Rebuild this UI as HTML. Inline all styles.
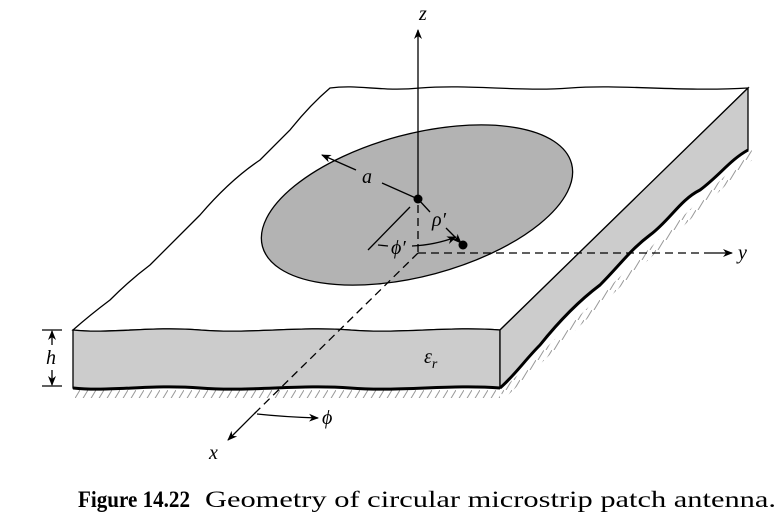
<!DOCTYPE html>
<html><head><meta charset="utf-8"><style>
html,body{margin:0;padding:0;background:#fff;}
svg{display:block;}
text{font-family:"Liberation Serif",serif;}
</style></head><body>
<svg width="783" height="526" viewBox="0 0 783 526">
<defs>
<marker id="ar" markerWidth="10" markerHeight="8" refX="9" refY="4" orient="auto" markerUnits="userSpaceOnUse"><path d="M0,0 L10,4 L0,8 L3,4 Z" fill="#000"/></marker>
<pattern id="hatch" width="8" height="10" patternUnits="userSpaceOnUse"><line x1="8" y1="0" x2="2" y2="10" stroke="#999" stroke-width="1"/></pattern>
</defs>
<rect x="75" y="390" width="425" height="8" fill="url(#hatch)"/>
<path d="M500,392 L752,150 L752,160 L505,398 Z" fill="url(#hatch)"/>
<path d="M330,88 C360,84 380,92 420,88 C470,84 520,92 570,88 C620,84 680,92 748,88 L500,330 C450,326 400,334 350,330 C300,326 250,334 200,330 C150,326 110,334 73,330 Q90,315 110,300 Q130,280 150,265 Q180,235 200,215 Q230,180 260,160 Q280,140 290,130 Q310,105 330,88 Z" fill="#fff" stroke="#000" stroke-width="1.3"/>
<path d="M73,330 C110,334 150,326 200,330 C250,334 300,326 350,330 C400,334 450,326 500,330 L500,388 C450,384 400,392 350,388 C300,384 250,392 200,388 C150,384 110,392 73,388 Z" fill="#cccccc" stroke="#000" stroke-width="1.3"/>
<path d="M73,388 C110,392 150,384 200,388 C250,392 300,384 350,388 C400,392 450,384 500,388" fill="none" stroke="#000" stroke-width="3"/>
<path d="M500,330 L748,88 L748,150 C730,160 720,175 700,190 C680,200 670,220 650,235 C630,250 620,265 600,285 C580,300 560,320 540,345 C525,360 515,375 500,388 Z" fill="#cccccc" stroke="#000" stroke-width="1.3"/>
<path d="M748,150 C730,160 720,175 700,190 C680,200 670,220 650,235 C630,250 620,265 600,285 C580,300 560,320 540,345 C525,360 515,375 500,388" fill="none" stroke="#000" stroke-width="3"/>
<ellipse cx="417" cy="205" rx="160" ry="71" transform="rotate(-15 417 205)" fill="#b3b3b3" stroke="#000" stroke-width="1.3"/>
<line x1="418" y1="199" x2="418" y2="30" stroke="#000" stroke-width="1.3" marker-end="url(#ar)"/>
<text x="419" y="20" font-size="20" font-style="italic">z</text>
<line x1="418" y1="205" x2="418" y2="253" stroke="#000" stroke-width="1.3" stroke-dasharray="8,5"/>
<line x1="418" y1="253" x2="715" y2="253" stroke="#000" stroke-width="1.3" stroke-dasharray="8,5"/>
<line x1="712" y1="253" x2="732" y2="253" stroke="#000" stroke-width="1.3" marker-end="url(#ar)"/>
<text x="738" y="259" font-size="20" font-style="italic">y</text>
<line x1="418" y1="253" x2="253" y2="415" stroke="#000" stroke-width="1.3" stroke-dasharray="8,5"/>
<line x1="256" y1="412" x2="228" y2="440" stroke="#000" stroke-width="1.3" marker-end="url(#ar)"/>
<text x="209" y="459" font-size="20" font-style="italic">x</text>
<path d="M257,414 Q285,417 318,418" fill="none" stroke="#000" stroke-width="1.3" marker-end="url(#ar)"/>
<text x="322" y="424" font-size="20" font-style="italic">ϕ</text>
<line x1="418" y1="199" x2="382" y2="183" stroke="#000" stroke-width="1.3"/>
<line x1="356" y1="170" x2="322" y2="155" stroke="#000" stroke-width="1.3" marker-end="url(#ar)"/>
<text x="362" y="183" font-size="20" font-style="italic">a</text>
<circle cx="418" cy="199" r="4.5" fill="#000"/>
<line x1="418" y1="199" x2="430" y2="212" stroke="#000" stroke-width="1.3"/>
<line x1="446" y1="228" x2="461" y2="243" stroke="#000" stroke-width="1.3" marker-end="url(#ar)"/>
<text x="432" y="226" font-size="20" font-style="italic">ρ′</text>
<circle cx="463" cy="245" r="4.5" fill="#000"/>
<line x1="410" y1="207" x2="368" y2="250" stroke="#000" stroke-width="1.3"/>
<line x1="378" y1="245" x2="388" y2="246" stroke="#000" stroke-width="1.3"/>
<path d="M412,246 Q435,245 456,237" fill="none" stroke="#000" stroke-width="1.3" marker-end="url(#ar)"/>
<text x="391" y="254" font-size="20" font-style="italic">ϕ′</text>
<line x1="42" y1="330" x2="62" y2="330" stroke="#000" stroke-width="1.3"/>
<line x1="42" y1="386" x2="62" y2="386" stroke="#000" stroke-width="1.3"/>
<line x1="52" y1="345" x2="52" y2="331" stroke="#000" stroke-width="1.3" marker-end="url(#ar)"/>
<line x1="52" y1="370" x2="52" y2="385" stroke="#000" stroke-width="1.3" marker-end="url(#ar)"/>
<text x="46" y="364" font-size="20" font-style="italic">h</text>
<text x="424" y="363" font-size="20" font-style="italic">ε<tspan font-size="14" dy="5">r</tspan></text>
<text x="78" y="507" font-size="23" font-weight="bold" textLength="112" lengthAdjust="spacingAndGlyphs">Figure 14.22</text>
<text x="205" y="507" font-size="23" textLength="571" lengthAdjust="spacingAndGlyphs">Geometry of circular microstrip patch antenna.</text>
</svg>
</body></html>
